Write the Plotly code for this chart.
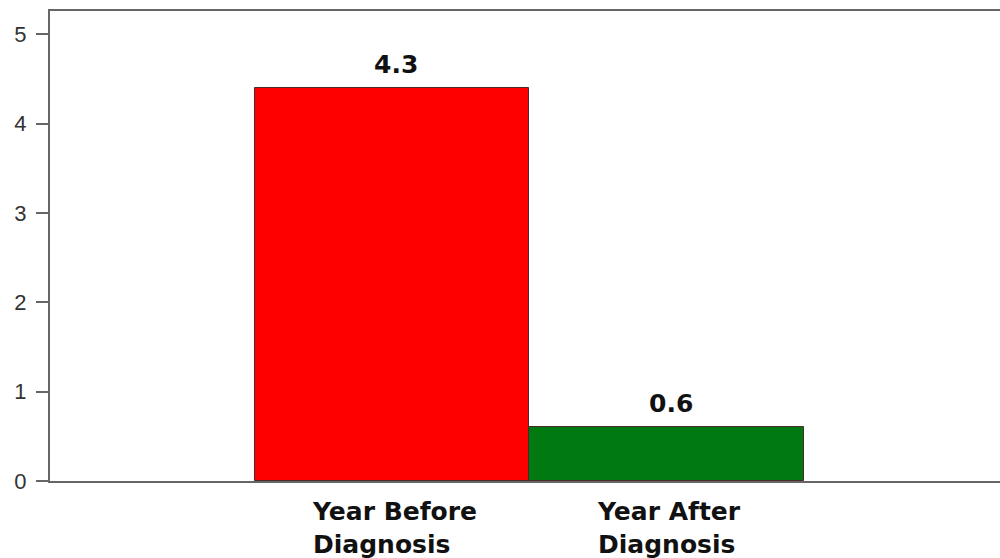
import plotly.graph_objects as go

categories = ["Year Before<br>Diagnosis", "Year After<br>Diagnosis"]
values = [4.4, 0.6]
value_labels = ["4.3", "0.6"]
colors = ["#ff0000", "#007a10"]
y_ticks = [0, 1, 2, 3, 4, 5]

fig = go.Figure()
fig.add_trace(go.Bar(
    x=list(range(len(categories))),
    y=values,
    width=1.0,
    marker=dict(color=colors, line=dict(color="#4a2a2a", width=1)),
    hoverinfo="skip",
    showlegend=False,
))

annotations = []
for i, (v, lab) in enumerate(zip(values, value_labels)):
    annotations.append(dict(
        x=i + 0.015, y=v, xref="x", yref="y", text=f"<b>{lab}</b>",
        showarrow=False, yanchor="bottom", yshift=7,
        font=dict(family="DejaVu Sans", size=25, color="#111111"),
    ))
for i, cat in enumerate(categories):
    annotations.append(dict(
        x=i + 0.01, y=0, xref="x", yref="paper", text=f"<b>{cat}</b>",
        showarrow=False, yanchor="top", xanchor="center", align="left",
        yshift=-14,
        font=dict(family="DejaVu Sans", size=25, color="#111111"),
    ))

fig.update_layout(
    width=1000, height=558,
    margin=dict(l=50, r=0, t=11, b=77),
    paper_bgcolor="white", plot_bgcolor="white",
    bargap=0,
    annotations=annotations,
    xaxis=dict(
        range=[-1.246, 2.215],
        showticklabels=False, ticks="",
        showline=True, linecolor="#666666", linewidth=2, mirror=True,
        showgrid=False, zeroline=False, fixedrange=True,
    ),
    yaxis=dict(
        range=[0, 5.263],
        tickvals=y_ticks,
        ticks="outside", ticklen=12, tickcolor="#666666", tickwidth=1.5,
        showline=True, linecolor="#666666", linewidth=2,
        showgrid=False, zeroline=False,
        tickfont=dict(family="Liberation Sans", size=22, color="#333333"),
        ticklabelstandoff=5,
    ),
)

fig.write_html("out.html")
